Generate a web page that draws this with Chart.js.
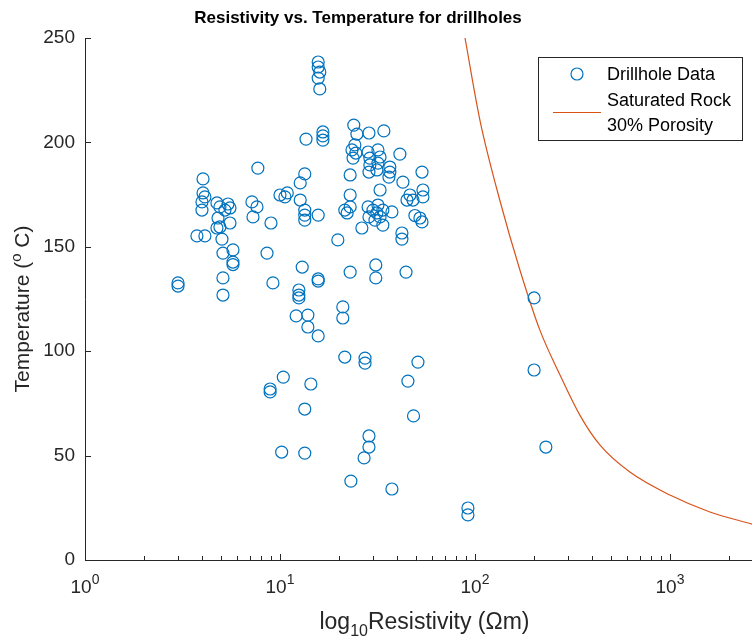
<!DOCTYPE html>
<html>
<head>
<meta charset="utf-8">
<script src="https://cdn.jsdelivr.net/npm/chart.js@4/dist/chart.umd.min.js"></script>
<style>
  html, body { margin: 0; padding: 0; background: #ffffff; }
  #wrap { width: 752px; height: 641px; position: relative; }
</style>
</head>
<body>
<div id="wrap"><canvas id="c" width="752" height="641"></canvas></div>
<script>
// ---------- data ----------
const resistivity = [
  3.0, 3.0, 7.7, 4.03, 4.03, 4.12, 3.98, 3.98, 4.75, 4.92,
  5.41, 5.54, 5.22, 5.54, 4.81, 4.75, 4.92, 7.18, 7.62, 7.27,
  8.99, 3.75, 4.12, 5.04, 5.1, 5.74, 5.74, 5.74, 8.58, 5.1,
  5.1, 9.2, 10.0, 15.7, 15.7, 16.0, 15.7, 16.0, 13.6, 16.6,
  16.6, 16.6, 23.9, 24.8, 28.6, 34.1, 23.4, 24.2, 24.5, 23.7,
  28.3, 28.9, 28.9, 28.6, 31.8, 32.6, 31.8, 31.4, 36.6, 36.6,
  36.2, 41.2, 53.5, 13.4, 12.7, 22.9, 42.7, 46.4, 48.1, 44.8,
  54.1, 54.1, 32.6, 10.9, 10.6, 12.7, 13.4, 13.4, 13.4, 15.7,
  22.9, 21.5, 22.1, 22.9, 26.3, 28.3, 30.0, 31.4, 32.6, 33.7,
  31.8, 37.5, 28.6, 30.7, 33.7, 42.2, 42.2, 49.2, 52.2, 53.5,
  19.8, 13.0, 12.5, 12.5, 12.5, 15.7, 15.7, 22.9, 31.0, 31.0,
  44.3, 12.1, 13.9, 13.9, 15.7, 21.0, 21.0, 21.5, 27.3, 27.3,
  51.0, 10.4, 14.4, 45.3, 8.9, 8.9, 13.4, 48.4, 28.6, 28.6,
  27.0, 10.2, 13.4, 23.1, 37.5, 92, 92, 201, 201, 231
];
const temperature = [
  132.7, 131.2, 187.7, 182.5, 175.8, 173.9, 171.5, 167.6, 171.0, 169.1,
  170.5, 168.6, 167.6, 161.4, 163.8, 159.0, 159.5, 171.5, 169.1, 164.3,
  161.4, 155.2, 155.2, 153.7, 147.0, 148.5, 142.7, 141.5, 147.0, 135.1,
  126.9, 132.7, 174.8, 238.5, 236.1, 233.7, 230.8, 225.6, 201.6, 205.0,
  203.1, 201.1, 208.3, 204.0, 204.5, 205.5, 196.4, 198.8, 194.9, 192.5,
  195.4, 192.5, 189.2, 185.8, 196.4, 193.0, 190.1, 186.8, 188.2, 185.8,
  183.4, 194.4, 185.8, 184.9, 180.6, 184.4, 181.0, 174.8, 172.4, 172.4,
  177.2, 173.9, 177.2, 175.8, 173.9, 172.4, 167.6, 165.2, 162.8, 165.2,
  174.8, 167.6, 166.2, 169.1, 159.0, 169.1, 167.6, 166.2, 164.3, 167.6,
  170.0, 166.7, 164.3, 162.8, 160.4, 156.6, 153.7, 165.0, 163.8, 161.9,
  153.3, 140.3, 129.3, 126.9, 125.5, 134.6, 133.6, 137.9, 141.3, 135.1,
  137.9, 116.9, 117.3, 111.6, 107.3, 121.2, 115.9, 97.2, 96.7, 94.3,
  94.8, 87.6, 84.3, 85.7, 81.9, 80.5, 72.3, 69.0, 59.4, 54.1,
  48.9, 51.7, 51.2, 37.8, 34.0, 24.9, 21.6, 125.5, 91.0, 54.1
];
// saturated rock (30% porosity) curve
const curveResistivity = [88.9, 106, 134, 170, 215, 273, 345, 437, 623, 1000, 1603, 2635];
const curveTemperature = [250, 210.7, 172.4, 138.9, 110.2, 88.6, 69.4, 55.1, 42.1, 31.1, 23.0, 17.2];

// axes
const xMajorTicks = [1, 10, 100, 1000];
const xTickExponents = ['0', '1', '2', '3'];
const xMinorTicks = [2,3,4,5,6,7,8,9, 20,30,40,50,60,70,80,90, 200,300,400,500,600,700,800,900, 2000];
const yTickValues = [0, 50, 100, 150, 200, 250];

const titleText = 'Resistivity vs. Temperature for drillholes';
const seriesNames = ['Drillhole Data', 'Saturated Rock', '30% Porosity'];

// ---------- chart ----------
const FONT = '"Liberation Sans", Arial, Helvetica, sans-serif';
const AXIS_COLOR = '#262626';
const BLUE = '#0072BD';
const ORANGE = '#D95319';

const scatterData = resistivity.map((r, i) => ({ x: r, y: temperature[i] }));
const curveData = curveResistivity.map((r, i) => ({ x: r, y: curveTemperature[i] }));

const matlabLook = {
  id: 'matlabLook',
  afterDraw(chart) {
    const { ctx, chartArea: ca, scales: { x, y } } = chart;
    ctx.save();
    // axis lines (box off: only left & bottom)
    ctx.strokeStyle = AXIS_COLOR;
    ctx.lineWidth = 1;
    ctx.beginPath();
    ctx.moveTo(ca.left + 0.5, ca.top);
    ctx.lineTo(ca.left + 0.5, ca.bottom + 0.5);
    ctx.lineTo(ca.right, ca.bottom + 0.5);
    // y ticks pointing inward
    yTickValues.forEach(v => {
      const py = Math.round(y.getPixelForValue(v)) + 0.5;
      ctx.moveTo(ca.left, py);
      ctx.lineTo(ca.left + 6, py);
    });
    // x ticks pointing inward
    xMajorTicks.forEach(v => {
      const px = Math.round(x.getPixelForValue(v)) + 0.5;
      ctx.moveTo(px, ca.bottom);
      ctx.lineTo(px, ca.bottom - 6);
    });
    xMinorTicks.forEach(v => {
      const px = Math.round(x.getPixelForValue(v)) + 0.5;
      ctx.moveTo(px, ca.bottom);
      ctx.lineTo(px, ca.bottom - 4);
    });
    ctx.stroke();

    ctx.fillStyle = AXIS_COLOR;
    // x tick labels 10^n
    const tickSize = 19, supSize = 14;
    ctx.textBaseline = 'alphabetic';
    xMajorTicks.forEach((v, i) => {
      const px = x.getPixelForValue(v);
      ctx.font = tickSize + 'px ' + FONT;
      const w1 = ctx.measureText('10').width;
      ctx.font = supSize + 'px ' + FONT;
      const w2 = ctx.measureText(xTickExponents[i]).width;
      const start = px - (w1 + w2) / 2;
      ctx.font = tickSize + 'px ' + FONT;
      ctx.textAlign = 'left';
      ctx.fillText('10', start, ca.bottom + 33);
      ctx.font = supSize + 'px ' + FONT;
      ctx.fillText(xTickExponents[i], start + w1, ca.bottom + 24);
    });

    // x axis title: log10Resistivity (Ωm)
    const labSize = 23, subSize = 16;
    ctx.font = labSize + 'px ' + FONT;
    const a = 'log', b = '10', c = 'Resistivity (\u03A9m)';
    const wa = ctx.measureText(a).width, wc = ctx.measureText(c).width;
    ctx.font = subSize + 'px ' + FONT;
    const wb = ctx.measureText(b).width;
    const cx = (ca.left + ca.right) / 2 + 6;
    let sx = cx - (wa + wb + wc) / 2;
    const by = ca.bottom + 69;
    ctx.font = labSize + 'px ' + FONT;
    ctx.fillText(a, sx, by);
    ctx.font = subSize + 'px ' + FONT;
    ctx.fillText(b, sx + wa, by + 7);
    ctx.font = labSize + 'px ' + FONT;
    ctx.fillText(c, sx + wa + wb, by);

    // y axis title: Temperature (°C)
    const ySize = 21, ySup = 15;
    ctx.save();
    ctx.translate(29, (ca.top + ca.bottom) / 2 + 10);
    ctx.rotate(-Math.PI / 2);
    const t1 = 'Temperature (', t2 = 'o', t3 = ' C)';
    ctx.font = ySize + 'px ' + FONT;
    const w1 = ctx.measureText(t1).width, w3 = ctx.measureText(t3).width;
    ctx.font = ySup + 'px ' + FONT;
    const w2 = ctx.measureText(t2).width;
    let ty = -(w1 + w2 + w3) / 2;
    ctx.font = ySize + 'px ' + FONT;
    ctx.fillText(t1, ty, 0);
    ctx.font = ySup + 'px ' + FONT;
    ctx.fillText(t2, ty + w1, -8);
    ctx.font = ySize + 'px ' + FONT;
    ctx.fillText(t3, ty + w1 + w2, 0);
    ctx.restore();

    // title
    ctx.fillStyle = '#000000';
    ctx.font = 'bold 17px ' + FONT;
    ctx.textAlign = 'center';
    ctx.textBaseline = 'middle';
    ctx.fillText(titleText, 358, 18);

    // legend
    const lx = 538.5, ly = 57.5, lw = 204, lh = 83;
    ctx.fillStyle = '#ffffff';
    ctx.fillRect(lx, ly, lw, lh);
    ctx.strokeStyle = AXIS_COLOR;
    ctx.lineWidth = 1;
    ctx.strokeRect(lx, ly, lw, lh);
    ctx.strokeStyle = BLUE;
    ctx.lineWidth = 1.2;
    ctx.beginPath();
    ctx.arc(577, 74, 6, 0, Math.PI * 2);
    ctx.stroke();
    ctx.strokeStyle = ORANGE;
    ctx.beginPath();
    ctx.moveTo(553, 112.5);
    ctx.lineTo(601, 112.5);
    ctx.stroke();
    ctx.fillStyle = '#000000';
    ctx.font = '18px ' + FONT;
    ctx.textAlign = 'left';
    ctx.textBaseline = 'middle';
    ctx.fillText(seriesNames[0], 607, 75);
    ctx.fillText(seriesNames[1], 607, 101);
    ctx.fillText(seriesNames[2], 607, 126);
    ctx.restore();
  }
};

new Chart(document.getElementById('c'), {
  data: {
    datasets: [
      {
        type: 'scatter',
        label: seriesNames[0],
        data: scatterData,
        borderColor: BLUE,
        backgroundColor: 'rgba(0,0,0,0)',
        borderWidth: 1.2,
        pointRadius: 6,
        pointHoverRadius: 6,
        pointStyle: 'circle'
      },
      {
        type: 'line',
        label: seriesNames[1] + ' ' + seriesNames[2],
        data: curveData,
        borderColor: ORANGE,
        backgroundColor: ORANGE,
        borderWidth: 1.2,
        pointRadius: 0,
        cubicInterpolationMode: 'monotone',
        fill: false
      }
    ]
  },
  options: {
    responsive: false,
    animation: false,
    layout: { autoPadding: false, padding: { top: 38, right: 0, left: 0, bottom: 0 } },
    plugins: {
      legend: { display: false },
      title: { display: false },
      tooltip: { enabled: false }
    },
    scales: {
      x: {
        type: 'logarithmic',
        min: 1,
        max: 2635,
        grid: { display: false, drawTicks: false },
        border: { display: false },
        ticks: { display: false },
        afterFit(scale) { scale.height = 81; }
      },
      y: {
        type: 'linear',
        min: 0,
        max: 250,
        grid: { display: false, drawTicks: false },
        border: { display: false },
        afterBuildTicks(scale) { scale.ticks = yTickValues.map(v => ({ value: v })); },
        ticks: {
          padding: 10,
          color: AXIS_COLOR,
          font: { family: FONT, size: 19 },
          callback: v => String(v)
        },
        afterFit(scale) { scale.width = 85; }
      }
    }
  },
  plugins: [matlabLook]
});
</script>
</body>
</html>
